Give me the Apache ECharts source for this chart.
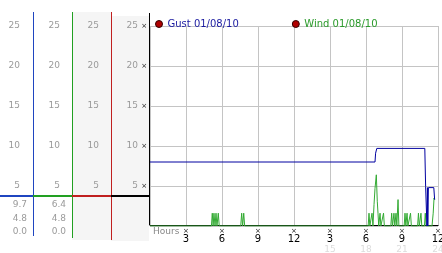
<!DOCTYPE html>
<html><head><meta charset="utf-8">
<script src="https://cdn.jsdelivr.net/npm/echarts@6/dist/echarts.min.js"></script>
<style>html,body{margin:0;padding:0;background:#fff}#c{width:442px;height:253px}</style>
</head><body><div id="c"></div>
<script>
const gustName = 'Gust 01/08/10';
const windName = 'Wind 01/08/10';
// [hour, value]
const gust = [[0,8.0],[18.75,8.0],[18.8,9.1],[18.9,9.7],[22.9,9.7],[22.97,4.9],[23.05,4.9],[23.08,0],[23.12,4.8],[23.15,0],[23.2,4.8],[23.65,4.8],[23.72,3.3]];
const wind = [[0,0],[5.12,0],[5.19,1.6],[5.26,0],[5.33,1.6],[5.42,0],[5.5,1.6],[5.58,0],[5.69,1.6],[5.77,0],
  [7.56,0],[7.64,1.6],[7.72,0],[7.81,1.6],[7.89,0],
  [18.18,0],[18.25,1.6],[18.32,0],[18.43,0],[18.5,1.6],[18.58,0],[18.67,2.7],[18.75,4.7],[18.86,6.4],[18.94,3.1],[19.0,1.6],[19.06,0],
  [19.1,0],[19.17,1.6],[19.24,0],[19.39,0],[19.46,1.6],[19.53,0],
  [20.07,0],[20.14,1.6],[20.21,0],[20.26,0],[20.33,1.6],[20.4,0],[20.43,0],[20.5,1.6],[20.57,0],[20.6,0],[20.67,3.3],[20.74,0],
  [21.18,0],[21.25,1.6],[21.32,0],[21.35,0],[21.42,1.6],[21.49,0],[21.64,0],[21.71,1.6],[21.78,0],
  [22.3,0],[22.37,1.6],[22.44,0],[22.51,0],[22.58,1.6],[22.65,0],[22.87,0],[22.94,1.6],[23.01,0],
  [23.5,0],[23.6,1.6],[23.67,3.5],[23.72,3.3]];
const yTicks = [5,10,15,20,25];
const hourLabels = ['','3','6','9','12','3','6','9','12'];
const dayLabels  = ['','','','','','15','18','21','24'];
const gustStats = ['9.7','4.8','0.0'];
const windStats = ['6.4','4.8','0.0'];

const FONT = 'DejaVu Sans';
const labelGray = '#9a9a9a';
const colDefs = [
  {left:0, width:33, top:12, bottom:236, color:'#1f45c0', margin:13},
  {left:33, width:39, top:12, bottom:238, color:'#22a022', margin:12},
  {left:72, width:39, top:12, bottom:240, color:'#c02020', margin:12},
  {left:111, width:38, top:13, bottom:225, color:'#000000', margin:11}
];
const zeroY = 226, pxPerUnit = 8;

const grids = [{left:150, right:4, top:26, bottom:27, outerBoundsMode:'none', containLabel:false}];
const xAxes = [{
  type:'value', gridIndex:0, min:0, max:24, interval:3, offset:-1,
  axisLine:{show:true, lineStyle:{color:'#000', width:1}},
  axisTick:{show:false},
  splitLine:{show:true, lineStyle:{color:'#c4c4c4'}},
  axisLabel:{margin:3, formatter:function(v){const i=Math.round(v/3); if(!hourLabels[i]) return ''; let s='{x|×}\n{n|'+hourLabels[i]+'}'; if(dayLabels[i]) s+='\n{s|'+dayLabels[i]+'}'; return s;},
    rich:{x:{fontSize:7, lineHeight:6, color:'#222', fontFamily:FONT}, n:{fontSize:10, lineHeight:10, color:'#000', fontFamily:FONT}, s:{fontSize:9, lineHeight:12, color:'#dcdcdc', fontFamily:FONT}}}
}];
const yAxes = [{
  type:'value', gridIndex:0, min:0, max:25, interval:5,
  axisLine:{show:false}, axisTick:{show:false},
  splitLine:{show:true, lineStyle:{color:'#c4c4c4'}},
  axisLabel:{margin:3, fontSize:7, color:'#222', fontFamily:FONT, formatter:function(v){return v>0?'×':'';}}
}];
colDefs.forEach(function(c,i){
  grids.push({left:c.left, width:c.width, top:c.top, bottom:253-c.bottom, outerBoundsMode:'none', containLabel:false});
  xAxes.push({type:'value', gridIndex:i+1, show:false, min:0, max:1});
  yAxes.push({type:'value', gridIndex:i+1, position:'right',
    min:(zeroY-c.bottom)/pxPerUnit, max:(zeroY-c.top)/pxPerUnit,
    axisLine:{show:false}, axisTick:{show:false}, splitLine:{show:false},
    axisLabel:{inside:true, margin:c.margin, customValues:yTicks, color:labelGray, fontSize:9, fontFamily:FONT}});
});

const graphics = [
  {type:'rect', z:-10, shape:{x:72,y:12,width:39,height:228}, style:{fill:'#f5f5f5'}},
  {type:'rect', z:-10, shape:{x:111,y:16,width:38,height:225}, style:{fill:'#f5f5f5'}}
];
colDefs.forEach(function(c){
  const xr = c.left + c.width + 0.5;
  graphics.push({type:'line', z:10, shape:{x1:xr, y1:c.top, x2:xr, y2:c.bottom}, style:{stroke:c.color, lineWidth:1}});
  graphics.push({type:'line', z:11, shape:{x1:c.left, y1:196, x2:c.left+c.width+1, y2:196}, style:{stroke:c.color, lineWidth:2}});
});
[[gustStats,27],[windStats,66]].forEach(function(p){
  p[0].forEach(function(t,j){
    graphics.push({type:'text', z:10, style:{text:t, x:p[1], y:205+j*13.5, align:'right', verticalAlign:'middle', fill:labelGray, font:'9px "'+FONT+'"'}});
  });
});
graphics.push({type:'text', z:10, style:{text:'Hours', x:153, y:232, verticalAlign:'middle', fill:'#888', font:'9px "'+FONT+'"'}});

const chart = echarts.init(document.getElementById('c'), null, {renderer:'canvas'});
chart.setOption({
  animation:false,
  backgroundColor:'#fff',
  grid:grids, xAxis:xAxes, yAxis:yAxes, graphic:graphics,
  legend:{left:150, top:14, itemGap:53, itemWidth:7, itemHeight:7, icon:'circle',
    data:[{name:gustName, textStyle:{color:'#1a1aa0'}},{name:windName, textStyle:{color:'#2a9a2a'}}],
    itemStyle:{color:'#b00000', borderColor:'#300', borderWidth:1},
    textStyle:{fontFamily:FONT, fontSize:10}},
  series:[
    {name:gustName, type:'line', xAxisIndex:0, yAxisIndex:0, data:gust, showSymbol:false, symbol:'none', lineStyle:{color:'#0000a0', width:1}, itemStyle:{color:'#0000a0'}, z:3},
    {name:windName, type:'line', xAxisIndex:0, yAxisIndex:0, data:wind, showSymbol:false, symbol:'none', lineStyle:{color:'#33aa33', width:1}, itemStyle:{color:'#33aa33'}, z:2}
  ]
});
</script></body></html>
